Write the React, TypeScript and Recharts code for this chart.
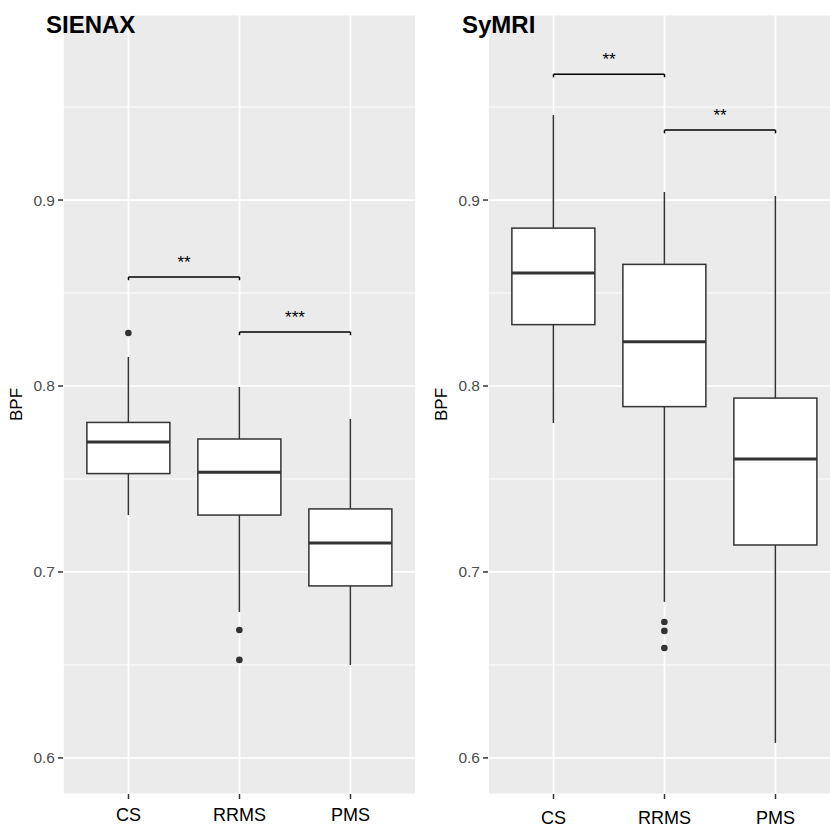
import React from 'react';
import { ComposedChart, Bar, XAxis, YAxis, CartesianGrid, ReferenceLine, Label } from 'recharts';

const FONT = '"Liberation Sans", Arial, sans-serif';
const INK = '#333333';

const groups = ['CS', 'RRMS', 'PMS'];

// SIENAX box stats (BPF)
const sienaxLower = [0.7306, 0.6785, 0.65];
const sienaxQ1 = [0.7529, 0.7306, 0.6925];
const sienaxMedian = [0.7699, 0.7536, 0.7156];
const sienaxQ3 = [0.7804, 0.7715, 0.7339];
const sienaxUpper = [0.8156, 0.7995, 0.7823];
const sienaxOutliers = [[0.8285], [0.6688, 0.6527], []];

// SyMRI box stats (BPF)
const symriLower = [0.7801, 0.6839, 0.6081];
const symriQ1 = [0.833, 0.7889, 0.7145];
const symriMedian = [0.8608, 0.8238, 0.7608];
const symriQ3 = [0.8849, 0.8654, 0.7935];
const symriUpper = [0.9457, 0.9043, 0.9022];
const symriOutliers = [[], [0.6731, 0.6683, 0.6591], []];

const sienaxBrackets = [
  { from: 'CS', to: 'RRMS', y: 0.8586, label: '**' },
  { from: 'RRMS', to: 'PMS', y: 0.829, label: '***' },
];
const symriBrackets = [
  { from: 'CS', to: 'RRMS', y: 0.9677, label: '**' },
  { from: 'RRMS', to: 'PMS', y: 0.9376, label: '**' },
];

const yDomain = [0.5806, 0.9995];
const yTicks = [0.6, 0.65, 0.7, 0.75, 0.8, 0.85, 0.9, 0.95];
const majorTicks = [0.6, 0.7, 0.8, 0.9];
const TIP = 0.0017;
const TICK_SIZE = 5;
const TICK_MARGIN = 3;

const buildRows = (lower: number[], q1: number[], median: number[], q3: number[], upper: number[], outliers: number[][]) =>
  groups.map((group, i) => ({
    group,
    range: [lower[i], upper[i]],
    q1: q1[i],
    median: median[i],
    q3: q3[i],
    outliers: outliers[i],
  }));

const sienaxData = buildRows(sienaxLower, sienaxQ1, sienaxMedian, sienaxQ3, sienaxUpper, sienaxOutliers);
const symriData = buildRows(symriLower, symriQ1, symriMedian, symriQ3, symriUpper, symriOutliers);

// the bar spans lower..upper whisker; everything else is placed along that same scale
const BoxShape = (props: any) => {
  const { x, y, width, height, payload } = props;
  const [lo, hi] = payload.range;
  const toY = (v: number) => y + ((hi - v) / (hi - lo)) * height;
  const cx = x + width / 2;
  return (
    <g>
      <line x1={cx} x2={cx} y1={toY(hi)} y2={toY(payload.q3)} stroke={INK} strokeWidth={1.5} />
      <line x1={cx} x2={cx} y1={toY(payload.q1)} y2={toY(lo)} stroke={INK} strokeWidth={1.5} />
      <rect
        x={x}
        y={toY(payload.q3)}
        width={width}
        height={toY(payload.q1) - toY(payload.q3)}
        fill="#FFFFFF"
        stroke={INK}
        strokeWidth={1.5}
      />
      <line x1={x} x2={x + width} y1={toY(payload.median)} y2={toY(payload.median)} stroke={INK} strokeWidth={3} />
      {payload.outliers.map((v: number, i: number) => (
        <circle key={i} cx={cx} cy={toY(v)} r={3.3} fill={INK} />
      ))}
    </g>
  );
};

const YTick = (props: any) => {
  const { x, y, payload } = props;
  if (!majorTicks.includes(payload.value)) return null;
  return (
    <g>
      <line x1={x + TICK_MARGIN} x2={x + TICK_MARGIN + TICK_SIZE} y1={y} y2={y} stroke={INK} strokeWidth={1.5} />
      <text x={x} y={y} dy="0.355em" textAnchor="end" fill="#4D4D4D" fontSize={15.5} fontFamily={FONT}>
        {payload.value.toFixed(1)}
      </text>
    </g>
  );
};

const HGrid = (props: any) => {
  const { x1, x2, y1, y2, index } = props;
  const major = majorTicks.includes(yTicks[index]);
  return <line x1={x1} x2={x2} y1={y1} y2={y2} stroke="#FFFFFF" strokeWidth={major ? 1.7 : 0.9} />;
};

const VGrid = (props: any) => {
  const { x1, x2, y1, y2 } = props;
  return <line x1={x1} x2={x2} y1={y1} y2={y2} stroke="#FFFFFF" strokeWidth={1.7} />;
};

const YLabel = (props: any) => {
  const vb = props.viewBox;
  const cx = vb.x + 16;
  const cy = vb.y + vb.height / 2;
  return (
    <text x={cx} y={cy} transform={`rotate(-90, ${cx}, ${cy})`} textAnchor="middle" dominantBaseline="central" fill="#000" fontSize={17} fontFamily={FONT}>
      BPF
    </text>
  );
};

interface PanelProps {
  data: any[];
  brackets: { from: string; to: string; y: number; label: string }[];
  xTickMargin: number;
}

const Panel: React.FC<PanelProps> = ({ data, brackets, xTickMargin }) => (
  <ComposedChart width={420} height={826} data={data} margin={{ top: 15, right: 4, bottom: 0, left: 0 }} barCategoryGap="12.5%">
    <CartesianGrid fill="#EBEBEB" horizontal={HGrid} vertical={VGrid} />
    <XAxis
      dataKey="group"
      height={32}
      padding={{ left: 10, right: 10 }}
      interval={0}
      axisLine={false}
      tickSize={5}
      tickMargin={xTickMargin}
      tickLine={{ stroke: INK, strokeWidth: 1.5 }}
      tick={{ fill: '#000', fontSize: 18, fontFamily: FONT }}
    />
    <YAxis
      type="number"
      width={63}
      domain={yDomain}
      allowDataOverflow
      ticks={yTicks}
      interval={0}
      axisLine={false}
      tickLine={false}
      tickSize={TICK_SIZE}
      tickMargin={TICK_MARGIN}
      tick={YTick}
    >
      <Label content={YLabel} />
    </YAxis>
    <Bar dataKey="range" shape={BoxShape} isAnimationActive={false} />
    {brackets.map((b, i) => (
      <ReferenceLine
        key={`h${i}`}
        segment={[{ x: b.from, y: b.y }, { x: b.to, y: b.y }]}
        stroke="#000"
        strokeWidth={1.5}
        label={{ value: b.label, position: 'top', offset: 9, fill: '#000', fontSize: 17, fontFamily: FONT }}
      />
    ))}
    {brackets.map((b, i) => (
      <ReferenceLine key={`l${i}`} segment={[{ x: b.from, y: b.y }, { x: b.from, y: b.y - TIP }]} stroke="#000" strokeWidth={1.5} />
    ))}
    {brackets.map((b, i) => (
      <ReferenceLine key={`r${i}`} segment={[{ x: b.to, y: b.y }, { x: b.to, y: b.y - TIP }]} stroke="#000" strokeWidth={1.5} />
    ))}
  </ComposedChart>
);

export default function App() {
  return (
    <div style={{ position: 'fixed', left: 0, top: 0, width: 830, height: 826, overflow: 'hidden', background: '#FFFFFF' }}>
      <div style={{ position: 'absolute', left: 0, top: 0 }}>
        <Panel data={sienaxData} brackets={sienaxBrackets} xTickMargin={9} />
      </div>
      <div style={{ position: 'absolute', left: 425, top: 0 }}>
        <Panel data={symriData} brackets={symriBrackets} xTickMargin={12} />
      </div>
      <svg width={830} height={826} style={{ position: 'absolute', left: 0, top: 0, pointerEvents: 'none' }}>
        <text x={46} y={33} fontSize={24} fontWeight="bold" fontFamily={FONT} fill="#000">SIENAX</text>
        <text x={462} y={33} fontSize={24} fontWeight="bold" fontFamily={FONT} fill="#000">SyMRI</text>
      </svg>
    </div>
  );
}
